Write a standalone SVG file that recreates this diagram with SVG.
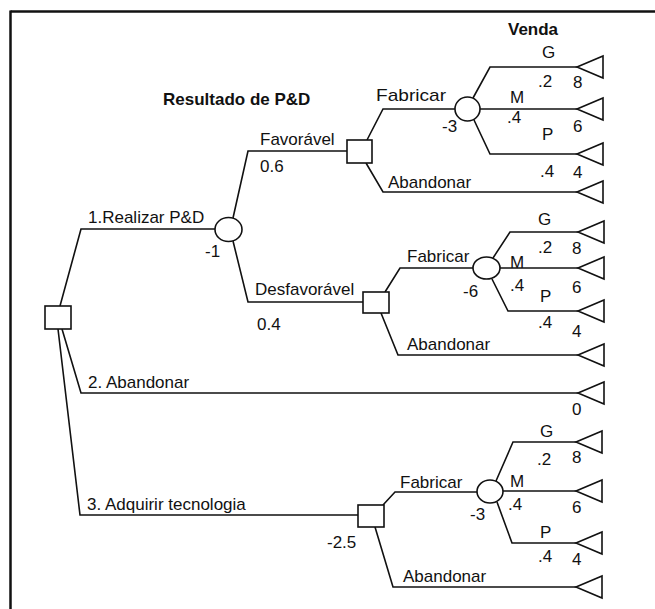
<svg xmlns="http://www.w3.org/2000/svg" width="655" height="609" viewBox="0 0 655 609">
<style>
.ln{fill:none;stroke:#111;stroke-width:1.6}
.nd{fill:#fff;stroke:#111;stroke-width:1.6}
.tri{fill:#fff;stroke:#111;stroke-width:1.6;stroke-linejoin:miter}
text{font-family:"Liberation Sans",Arial,sans-serif;font-size:17px;fill:#111}
.b{font-weight:bold}
</style>
<defs>
<polygon id="end" class="tri" points="0,0 26,-11 26,11"/>
</defs>
<rect width="655" height="609" fill="#fff"/>
<g id="frame">
<line x1="10.5" y1="11.5" x2="655" y2="11.5" stroke="#111" stroke-width="2.5"/>
<line x1="10.5" y1="10.5" x2="10.5" y2="609" stroke="#111" stroke-width="2.5"/>
</g>
<g id="connectors">
<polyline class="ln" points="60,306 81,229 215,229"/>
<polyline class="ln" points="62,329 81,393 578,393"/>
<polyline class="ln" points="58,329 80,515 358,515"/>
<polyline class="ln" points="233,218 248,151 347,151"/>
<polyline class="ln" points="233,241 248,302 363,302"/>
<polyline class="ln" points="367,140 383,109 455,109"/>
<polyline class="ln" points="366,163 383,192 577,192"/>
<polyline class="ln" points="473,98 490,67 577,67"/>
<line class="ln" x1="480" y1="109" x2="577" y2="109"/>
<polyline class="ln" points="474,120 490,154 577,154"/>
<polyline class="ln" points="385,292 400,268 473,268"/>
<polyline class="ln" points="381,313 398,355 578,355"/>
<polyline class="ln" points="493,258 510,232 578,232"/>
<line class="ln" x1="500" y1="268" x2="578" y2="268"/>
<polyline class="ln" points="492,279 508,311 578,311"/>
<polyline class="ln" points="383,505 395,492 477,492"/>
<polyline class="ln" points="375,527 393,587 576,587"/>
<polyline class="ln" points="496,481 513,442 576,442"/>
<line class="ln" x1="503" y1="491" x2="576" y2="491"/>
<polyline class="ln" points="497,502 512,543 576,543"/>
</g>
<g id="root"><rect class="nd" x="45" y="306" width="26" height="23"/></g>
<g id="chance-rd"><ellipse class="nd" cx="228.5" cy="229.5" rx="13.5" ry="12"/></g>
<g id="dec-fav"><rect class="nd" x="347" y="140" width="25" height="23"/></g>
<g id="chance-fav"><ellipse class="nd" cx="467.5" cy="109" rx="12.5" ry="12"/></g>
<g id="dec-desf"><rect class="nd" x="363" y="292" width="26" height="21"/></g>
<g id="chance-desf"><ellipse class="nd" cx="486.5" cy="268" rx="13.5" ry="11"/></g>
<g id="dec-acq"><rect class="nd" x="358" y="505" width="26" height="22"/></g>
<g id="chance-acq"><ellipse class="nd" cx="490" cy="491.5" rx="13" ry="11.5"/></g>
<g id="ends">
<use href="#end" x="577" y="67"/>
<use href="#end" x="577" y="109"/>
<use href="#end" x="577" y="154"/>
<use href="#end" x="577" y="192"/>
<use href="#end" x="578" y="232"/>
<use href="#end" x="578" y="268"/>
<use href="#end" x="578" y="311"/>
<use href="#end" x="578" y="355"/>
<use href="#end" x="578" y="393"/>
<use href="#end" x="576" y="442"/>
<use href="#end" x="576" y="491"/>
<use href="#end" x="576" y="543"/>
<use href="#end" x="576" y="587"/>
</g>
<g id="labels">
<text class="b" x="163" y="105">Resultado de P&amp;D</text>
<text class="b" x="508" y="35">Venda</text>
<text x="88" y="223">1.Realizar P&amp;D</text>
<text x="205" y="257">-1</text>
<text x="260" y="145">Favorável</text>
<text x="260" y="172">0.6</text>
<text x="255" y="295">Desfavorável</text>
<text x="257" y="330">0.4</text>
<text x="88" y="388">2. Abandonar</text>
<text x="87" y="510">3. Adquirir tecnologia</text>
<text x="327" y="548">-2.5</text>
<text x="376" y="101" textLength="70" lengthAdjust="spacingAndGlyphs">Fabricar</text>
<text x="442" y="132">-3</text>
<text x="388" y="188">Abandonar</text>
<text x="542" y="58">G</text>
<text x="538" y="87">.2</text>
<text x="573" y="88">8</text>
<text x="510" y="103">M</text>
<text x="507" y="123">.4</text>
<text x="573" y="132">6</text>
<text x="542" y="140">P</text>
<text x="540" y="177">.4</text>
<text x="573" y="178">4</text>
<text x="407" y="262">Fabricar</text>
<text x="463" y="297">-6</text>
<text x="407" y="350">Abandonar</text>
<text x="538" y="225">G</text>
<text x="538" y="253">.2</text>
<text x="572" y="254">8</text>
<text x="510" y="268">M</text>
<text x="510" y="291">.4</text>
<text x="572" y="293">6</text>
<text x="540" y="302">P</text>
<text x="538" y="328">.4</text>
<text x="572" y="337">4</text>
<text x="572" y="415">0</text>
<text x="400" y="488">Fabricar</text>
<text x="470" y="520">-3</text>
<text x="403" y="582">Abandonar</text>
<text x="540" y="437">G</text>
<text x="537" y="465">.2</text>
<text x="572" y="463">8</text>
<text x="510" y="487">M</text>
<text x="508" y="510">.4</text>
<text x="572" y="513">6</text>
<text x="540" y="538">P</text>
<text x="538" y="562">.4</text>
<text x="572" y="565">4</text>
</g>
</svg>
